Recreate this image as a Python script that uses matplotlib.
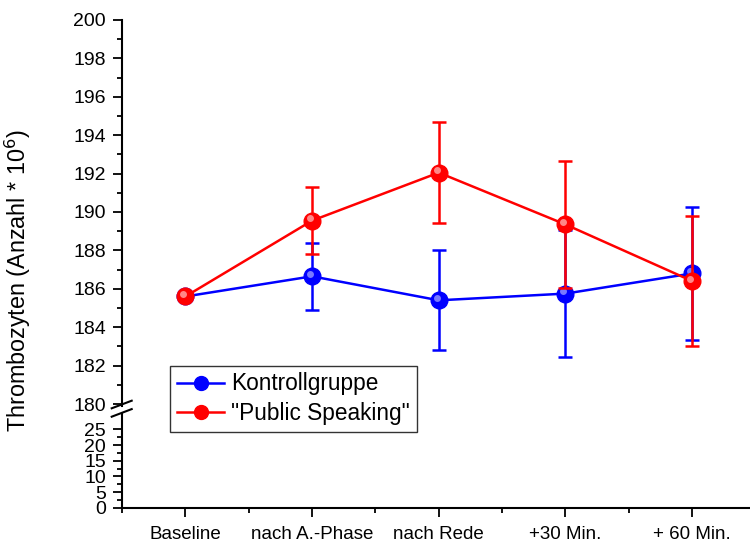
import matplotlib.pyplot as plt
import matplotlib.transforms as mtransforms
from matplotlib.lines import Line2D

plt.rcParams['font.family'] = ['Liberation Sans', 'DejaVu Sans']

categories = ['Baseline', 'nach A.-Phase', 'nach Rede', '+30 Min.', '+ 60 Min.']
kontroll = [185.6, 186.65, 185.4, 185.75, 186.8]
kontroll_err = [0, 1.75, 2.6, 3.3, 3.45]
public = [185.6, 189.55, 192.05, 189.35, 186.4]
public_err = [0, 1.75, 2.62, 3.3, 3.4]

x = list(range(len(categories)))

fig = plt.figure(figsize=(7.5, 5.43), dpi=100)
ax = fig.add_axes([0.1627, 0.2523, 0.8447, 0.7109])
ax2 = fig.add_axes([0.1627, 0.065, 0.8447, 0.1731])


def ball(a, xs, ys, color, light, z):
    a.plot(xs, ys, 'o', color=color, markersize=12, zorder=z)
    off = mtransforms.offset_copy(a.transData, fig=fig, x=-1.6, y=1.6, units='points')
    a.plot(xs, ys, 'o', color=light, markersize=5, markeredgewidth=0,
           alpha=0.8, transform=off, zorder=z + 0.1)


for vals, errs, col, light, z in [(kontroll, kontroll_err, '#0000ff', '#9999ff', 3),
                                   (public, public_err, '#ff0000', '#ffaaaa', 5)]:
    ax.plot(x, vals, color=col, lw=1.8, zorder=z)
    ax.errorbar(x[1:], vals[1:], yerr=errs[1:], fmt='none', ecolor=col,
                elinewidth=1.8, capsize=5, capthick=1.8, zorder=z)
    ball(ax, x, vals, col, light, z)

for a in (ax, ax2):
    a.set_xlim(-0.5, 4.5)
    a.spines['top'].set_visible(False)
    a.spines['right'].set_visible(False)
    a.spines['left'].set_linewidth(1.5)
    a.spines['bottom'].set_linewidth(1.5)
    a.tick_params(axis='y', which='major', direction='out', length=6.5, width=1.3,
                  labelsize=14, pad=5)
    a.tick_params(axis='y', which='minor', direction='out', length=3.5, width=1.3)

ax.spines['bottom'].set_visible(False)
ax.set_ylim(200 - 386 / 19.2, 200)
ax.set_yticks([180, 182, 184, 186, 188, 190, 192, 194, 196, 198, 200])
ax.set_yticks([181, 183, 185, 187, 189, 191, 193, 195, 197, 199], minor=True)
ax.set_xticks([])

ax2.set_ylim(0, 30)
ax2.set_yticks([0, 5, 10, 15, 20, 25])
ax2.set_yticks([2.5, 7.5, 12.5, 17.5, 22.5], minor=True)
ax2.set_xticks(x)
ax2.set_xticks([-0.5, 0.5, 1.5, 2.5, 3.5], minor=True)
ax2.set_xticklabels(categories)
ax2.tick_params(axis='x', which='major', direction='out', length=6.5, width=1.3,
                labelsize=13.5, pad=7)
ax2.tick_params(axis='x', which='minor', direction='out', length=3.5, width=1.3)
ax2.patch.set_alpha(0)

# Bruchzeichen auf der y-Achse
for y0 in (408.3, 416.7):
    fig.add_artist(Line2D([111.7 / 750, 131.7 / 750],
                          [1 - y0 / 543, 1 - (y0 - 7.6) / 543],
                          color='black', lw=1.5))

fig.text(0.024, 0.4825, 'Thrombozyten (Anzahl * 10$^{6}$)', rotation=90,
         ha='center', va='center', fontsize=16.8)

h1 = Line2D([], [], color='#0000ff', lw=1.8, marker='o', markersize=10)
h2 = Line2D([], [], color='#ff0000', lw=1.8, marker='o', markersize=10)
leg = fig.legend([h1, h2], ['Kontrollgruppe', '"Public Speaking"'],
                 loc='lower left', bbox_to_anchor=(0.2267, 0.2044),
                 fontsize=16.3, frameon=True, fancybox=False, handlelength=2.1,
                 handletextpad=0.3, borderpad=0.3, labelspacing=0.3,
                 borderaxespad=0)
leg.get_frame().set_edgecolor('black')
leg.get_frame().set_linewidth(1.0)

fig.savefig('out.png', dpi=100)
